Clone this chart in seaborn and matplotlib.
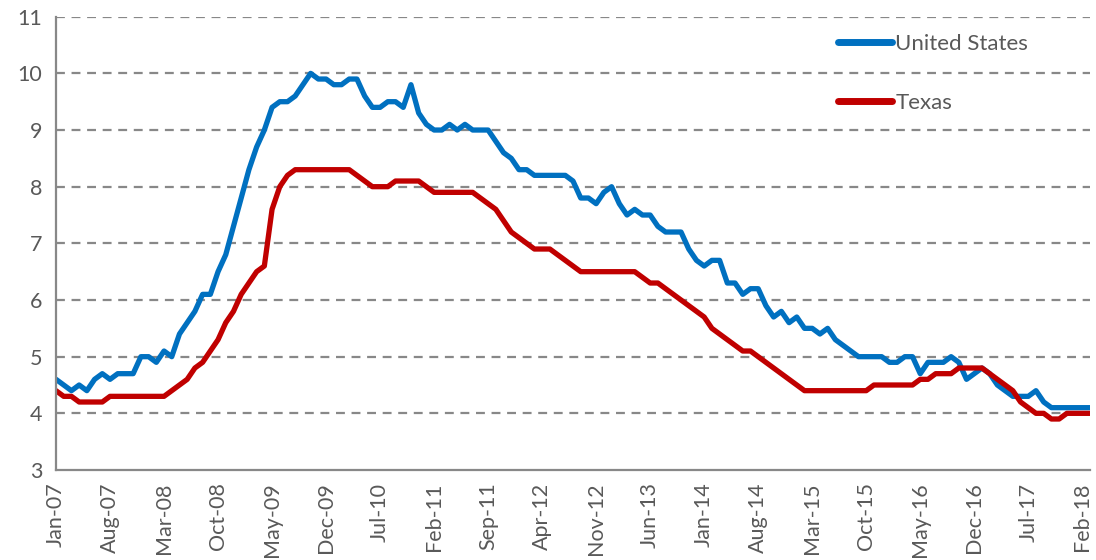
import matplotlib
matplotlib.use("Agg")
import matplotlib.pyplot as plt
import seaborn as sns
import pandas as pd

# monthly unemployment rate (%), Jan-07 .. Mar-18
months = pd.date_range("2007-01-01", periods=135, freq="MS").strftime("%b-%y").tolist()

us_rate = [
    4.6, 4.5, 4.4, 4.5, 4.4, 4.6, 4.7, 4.6, 4.7, 4.7, 4.7, 5.0,
    5.0, 4.9, 5.1, 5.0, 5.4, 5.6, 5.8, 6.1, 6.1, 6.5, 6.8, 7.3,
    7.8, 8.3, 8.7, 9.0, 9.4, 9.5, 9.5, 9.6, 9.8, 10.0, 9.9, 9.9,
    9.8, 9.8, 9.9, 9.9, 9.6, 9.4, 9.4, 9.5, 9.5, 9.4, 9.8, 9.3,
    9.1, 9.0, 9.0, 9.1, 9.0, 9.1, 9.0, 9.0, 9.0, 8.8, 8.6, 8.5,
    8.3, 8.3, 8.2, 8.2, 8.2, 8.2, 8.2, 8.1, 7.8, 7.8, 7.7, 7.9,
    8.0, 7.7, 7.5, 7.6, 7.5, 7.5, 7.3, 7.2, 7.2, 7.2, 6.9, 6.7,
    6.6, 6.7, 6.7, 6.3, 6.3, 6.1, 6.2, 6.2, 5.9, 5.7, 5.8, 5.6,
    5.7, 5.5, 5.5, 5.4, 5.5, 5.3, 5.2, 5.1, 5.0, 5.0, 5.0, 5.0,
    4.9, 4.9, 5.0, 5.0, 4.7, 4.9, 4.9, 4.9, 5.0, 4.9, 4.6, 4.7,
    4.8, 4.7, 4.5, 4.4, 4.3, 4.3, 4.3, 4.4, 4.2, 4.1, 4.1, 4.1,
    4.1, 4.1, 4.1,
]

texas_rate = [
    4.4, 4.3, 4.3, 4.2, 4.2, 4.2, 4.2, 4.3, 4.3, 4.3, 4.3, 4.3,
    4.3, 4.3, 4.3, 4.4, 4.5, 4.6, 4.8, 4.9, 5.1, 5.3, 5.6, 5.8,
    6.1, 6.3, 6.5, 6.6, 7.6, 8.0, 8.2, 8.3, 8.3, 8.3, 8.3, 8.3,
    8.3, 8.3, 8.3, 8.2, 8.1, 8.0, 8.0, 8.0, 8.1, 8.1, 8.1, 8.1,
    8.0, 7.9, 7.9, 7.9, 7.9, 7.9, 7.9, 7.8, 7.7, 7.6, 7.4, 7.2,
    7.1, 7.0, 6.9, 6.9, 6.9, 6.8, 6.7, 6.6, 6.5, 6.5, 6.5, 6.5,
    6.5, 6.5, 6.5, 6.5, 6.4, 6.3, 6.3, 6.2, 6.1, 6.0, 5.9, 5.8,
    5.7, 5.5, 5.4, 5.3, 5.2, 5.1, 5.1, 5.0, 4.9, 4.8, 4.7, 4.6,
    4.5, 4.4, 4.4, 4.4, 4.4, 4.4, 4.4, 4.4, 4.4, 4.4, 4.5, 4.5,
    4.5, 4.5, 4.5, 4.5, 4.6, 4.6, 4.7, 4.7, 4.7, 4.8, 4.8, 4.8,
    4.8, 4.7, 4.6, 4.5, 4.4, 4.2, 4.1, 4.0, 4.0, 3.9, 3.9, 4.0,
    4.0, 4.0, 4.0,
]

series_names = ["United States", "Texas"]
colors = {"United States": "#0070C0", "Texas": "#C00000"}

df = pd.DataFrame({
    "idx": list(range(len(months))) * 2,
    "rate": us_rate + texas_rate,
    "series": [series_names[0]] * len(us_rate) + [series_names[1]] * len(texas_rate),
})

sns.set_style("white")
plt.rcParams["font.family"] = ["Lato", "DejaVu Sans"]

fig = plt.figure(figsize=(10.96, 5.6), dpi=100)
ax = fig.add_axes([56 / 1096, 1 - 470 / 560, 1034 / 1096, 453.3 / 560])

sns.lineplot(data=df, x="idx", y="rate", hue="series", hue_order=series_names,
             palette=colors, linewidth=3.8, ax=ax, solid_capstyle="round")

grid_color = "#888888"
text_color = "#595959"

ax.set_xlim(0, len(months) - 1)
ax.set_ylim(3, 11)
ax.set_yticks(range(3, 12))
ax.set_xticks(range(0, len(months), 7))
ax.set_xticklabels(months[::7], rotation=90)

for v in range(4, 12):
    ax.axhline(v, color=grid_color, lw=1.6, ls=(0, (4, 3)), zorder=0)

for side in ["top", "right"]:
    ax.spines[side].set_visible(False)
for side in ["left", "bottom"]:
    ax.spines[side].set_color(grid_color)
    ax.spines[side].set_linewidth(1.6)

ax.tick_params(axis="both", colors=grid_color, labelcolor=text_color,
               labelsize=15.5, length=6, width=1.6, direction="out")
ax.tick_params(axis="y", pad=4)
ax.tick_params(axis="x", pad=3)
ax.set_xlabel("")
ax.set_ylabel("")

leg = ax.legend(loc="upper left", bbox_to_anchor=(0.756, 0.962), frameon=False,
                fontsize=16, handlelength=2.45, handletextpad=0.15,
                labelspacing=1.75, borderpad=0, borderaxespad=0)
for t in leg.get_texts():
    t.set_color(text_color)
for h in leg.get_lines():
    h.set_linewidth(5)

fig.savefig("out.png", dpi=100)
